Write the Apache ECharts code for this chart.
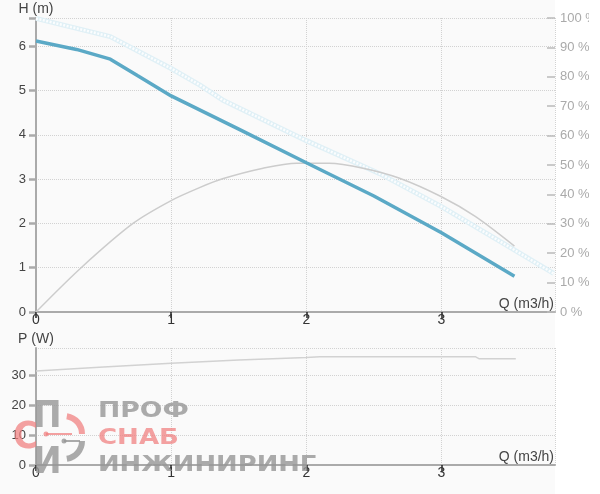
<!DOCTYPE html>
<html><head><meta charset="utf-8">
<script src="https://cdn.jsdelivr.net/npm/echarts@6/dist/echarts.min.js"></script>
<style>html,body{margin:0;padding:0;background:#fff}#c{width:600px;height:494px}</style>
</head><body><div id="c"></div>
<script>
// ---- data ----
const qTickLabels = ['0', '1', '2', '3'];
const headTicks = [0, 1, 2, 3, 4, 5, 6];
const pctTicks = [0, 10, 20, 30, 40, 50, 60, 70, 80, 90, 100];
const powTicks = [0, 10, 20, 30];

const headQ = [0, 0.3, 0.55, 0.75, 1, 1.5, 2, 2.5, 3, 3.54];
const headH = [6.12, 5.93, 5.71, 5.34, 4.88, 4.13, 3.37, 2.62, 1.79, 0.81];

const maxQ = [0, 0.55, 1, 1.21, 1.38, 2, 2.54, 3, 3.43, 3.83];
const maxH = [6.63, 6.22, 5.5, 5.13, 4.79, 3.87, 3.13, 2.38, 1.6, 0.87];

const effQ = [0, 0.33, 0.72, 1, 1.21, 1.38, 1.68, 1.93, 2.17, 2.42, 2.69, 3, 3.25, 3.54];
const effPct = [0, 14.9, 30.2, 37.9, 42.3, 45.3, 48.9, 50.6, 50.6, 48.9, 45.5, 39.2, 32.5, 22.4];

const powQ = [0, 0.5, 1, 1.5, 2, 2.1, 3.25, 3.28, 3.55];
const powW = [31.3, 32.7, 33.9, 35, 35.8, 36.1, 36.1, 35.4, 35.4];

const zip = (a, b) => a.map((v, i) => [v, b[i]]);

const chart = echarts.init(document.getElementById('c'), null, {renderer: 'canvas'});
const FONT = '"Liberation Sans", Arial, sans-serif';
const gridLine = {show: true, lineStyle: {color: '#d2d2d2', type: [1, 1], width: 1}};
const WM_GRAY = 'rgba(150,150,150,0.8)';
const WM_RED = 'rgba(240,125,125,0.72)';
const WM_FONT = 'bold 21px "DejaVu Sans"';

function xAxis(gridIndex) {
  return {
    type: 'value', gridIndex, min: 0, max: 3.84, interval: 1,
    name: 'Q (m3/h)', nameLocation: 'end', nameGap: -1,
    nameTextStyle: {align: 'right', verticalAlign: 'bottom', fontSize: 14, color: '#444', fontFamily: FONT, padding: [0, 0, 1, 0]},
    axisLine: {show: true, lineStyle: {color: '#aaaaaa', width: 2}},
    axisTick: {show: true, length: 6, lineStyle: {color: '#222', width: 1.5}},
    axisLabel: {margin: 1, fontSize: 14, color: '#333', fontFamily: FONT,
      formatter: v => qTickLabels[Math.round(v)] ?? '', showMaxLabel: false},
    splitLine: gridLine
  };
}

const option = {
  animation: false,
  backgroundColor: '#ffffff',
  graphic: [
    {type: 'rect', z: -10, silent: true, shape: {x: 0, y: 0, width: 555, height: 494}, style: {fill: '#fafafa'}},
    // watermark
    {type: 'text', z: 1, silent: true, x: 98, y: 401, scaleX: 1.27, style: {text: 'ПРОФ', font: WM_FONT, fill: WM_GRAY}},
    {type: 'text', z: 1, silent: true, x: 98, y: 428, scaleX: 1.24, style: {text: 'СНАБ', font: WM_FONT, fill: WM_RED}},
    {type: 'text', z: 1, silent: true, x: 98, y: 455, scaleX: 1.23, style: {text: 'ИНЖИНИРИНГ', font: WM_FONT, fill: WM_GRAY}},
    {type: 'text', z: 1, silent: true, x: 33, y: 398, scaleX: 0.9, style: {text: 'П', font: 'bold 38px "DejaVu Sans"', fill: WM_GRAY}},
    {type: 'text', z: 1, silent: true, x: 13, y: 419, scaleX: 0.9, style: {text: 'С', font: 'bold 38px "DejaVu Sans"', fill: WM_RED}},
    {type: 'text', z: 1, silent: true, x: 33, y: 444, scaleX: 0.9, style: {text: 'И', font: 'bold 38px "DejaVu Sans"', fill: WM_GRAY}},
    {type: 'arc', z: 1, silent: true, shape: {cx: 64, cy: 434, r: 18, startAngle: -Math.PI * 0.45, endAngle: 0}, style: {stroke: WM_RED, lineWidth: 6, fill: null}},
    {type: 'arc', z: 1, silent: true, shape: {cx: 64, cy: 441, r: 18, startAngle: 0, endAngle: Math.PI * 0.45}, style: {stroke: WM_GRAY, lineWidth: 6, fill: null}},
    {type: 'line', z: 1, silent: true, shape: {x1: 46, y1: 434, x2: 72, y2: 434}, style: {stroke: WM_RED, lineWidth: 2}},
    {type: 'circle', z: 1, silent: true, shape: {cx: 46, cy: 434, r: 2.5}, style: {fill: WM_RED}},
    {type: 'line', z: 1, silent: true, shape: {x1: 64, y1: 441, x2: 80, y2: 441}, style: {stroke: WM_GRAY, lineWidth: 2}},
    {type: 'circle', z: 1, silent: true, shape: {cx: 64, cy: 441, r: 2.5}, style: {fill: WM_GRAY}},
    // right edge crop of the reference canvas
    {type: 'rect', z: 100, silent: true, shape: {x: 589, y: 0, width: 11, height: 494}, style: {fill: '#ffffff'}}
  ],
  grid: [
    {left: 36, right: 45, top: 18, bottom: 182, containLabel: false},
    {left: 36, right: 45, top: 348, bottom: 29, containLabel: false}
  ],
  xAxis: [xAxis(0), xAxis(1)],
  yAxis: [
    {
      type: 'value', gridIndex: 0, min: 0, max: 6.64, interval: 1, position: 'left',
      name: 'H (m)', nameLocation: 'end', nameGap: 2,
      nameTextStyle: {fontSize: 14, color: '#444', fontFamily: FONT},
      axisLine: {show: true, lineStyle: {color: '#aaaaaa', width: 2}},
      axisTick: {show: true, length: 7, lineStyle: {color: '#aaaaaa', width: 2.5}},
      axisLabel: {margin: 10, fontSize: 13, color: '#444', fontFamily: FONT,
        formatter: v => headTicks.includes(v) ? String(v) : ''},
      splitLine: gridLine
    },
    {
      type: 'value', gridIndex: 0, min: 0, max: 100, interval: 10, position: 'right',
      axisLine: {show: false},
      axisTick: {show: true, inside: true, length: 8, lineStyle: {color: '#bbbbbb', width: 1.5}},
      axisLabel: {margin: 5, fontSize: 13, color: '#aaaaaa', fontFamily: FONT, padding: [0, 0, 9, 0],
        formatter: v => pctTicks.includes(v) ? v + ' %' : ''},
      splitLine: {show: false}
    },
    {
      type: 'value', gridIndex: 1, min: 0, max: 39, interval: 10,
      name: 'P (W)', nameLocation: 'end', nameGap: 2,
      nameTextStyle: {fontSize: 14, color: '#444', fontFamily: FONT},
      axisLine: {show: true, lineStyle: {color: '#aaaaaa', width: 2}},
      axisTick: {show: true, length: 7, lineStyle: {color: '#aaaaaa', width: 2.5}},
      axisLabel: {margin: 10, fontSize: 13, color: '#444', fontFamily: FONT, showMaxLabel: false,
        formatter: v => powTicks.includes(v) ? String(v) : ''},
      splitLine: gridLine
    }
  ],
  series: [
    {type: 'line', xAxisIndex: 0, yAxisIndex: 0, data: zip(maxQ, maxH), showSymbol: false, silent: true, z: 3,
      lineStyle: {color: '#e0f0f6', width: 5}},
    {type: 'line', xAxisIndex: 0, yAxisIndex: 0, data: zip(maxQ, maxH), showSymbol: false, silent: true, z: 3,
      lineStyle: {color: '#fbfdfe', width: 2.5, type: [2, 1.5]}},
    {type: 'line', xAxisIndex: 0, yAxisIndex: 1, data: zip(effQ, effPct), showSymbol: false, silent: true, z: 3,
      smooth: 0.3, lineStyle: {color: '#cccccc', width: 1.5}},
    {type: 'line', xAxisIndex: 0, yAxisIndex: 0, data: zip(headQ, headH), showSymbol: false, silent: true, z: 4,
      lineStyle: {color: '#5ba9c6', width: 3.5}},
    {type: 'line', xAxisIndex: 1, yAxisIndex: 2, data: zip(powQ, powW), showSymbol: false, silent: true, z: 3,
      lineStyle: {color: '#d2d2d2', width: 1.5}}
  ]
};
chart.setOption(option);
</script>
</body></html>
